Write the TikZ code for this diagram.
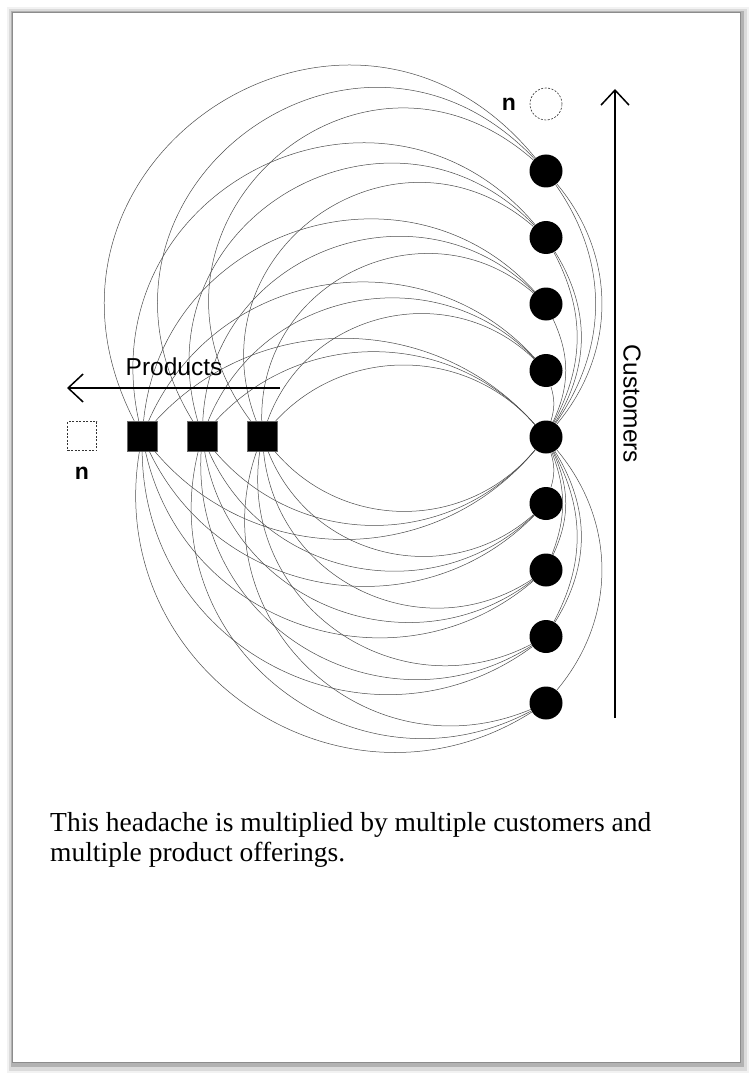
\documentclass[tikz,border=0pt]{standalone}
\usepackage{fontspec}
\setmainfont{Liberation Serif}
\setsansfont{Liberation Sans}
\usetikzlibrary{arrows.meta}
\begin{document}
\begin{tikzpicture}
[x=1pt, y=1pt, node distance=60pt, font=\sffamily\fontsize{24.5}{28}\selectfont]
\tikzstyle{prod}=[rectangle, fill=black, draw=black!60, inner sep=0pt, minimum size=30pt]
\tikzstyle{cust}=[circle, fill=black, inner sep=0pt, minimum size=33pt]
\tikzstyle{ghost}=[draw=black!80, dash pattern=on 2pt off 1.5pt, fill=white, inner sep=0pt, line width=0.6pt]
\tikzstyle{link}=[draw=black!70, line width=0.5pt]
\tikzstyle{axis}=[line width=1.5pt, -{Straight Barb[length=15pt,width=28pt]}]
\tikzstyle{nlabel}=[font=\sffamily\bfseries\fontsize{23}{25}\selectfont]

\useasboundingbox (0,0) rectangle (750,-1075);
% page and its shadow
\fill[black!5] (7,-7) rectangle (749,-1073);
\fill[black!14] (9,-9) rectangle (747,-1071);
\fill[black!30] (11,-11) rectangle (744,-1067);
\filldraw[fill=white, draw=black!45] (12,-12) rectangle (740,-1062);

\node[prod]	(P1)	at (142,-436) {};
\node[prod]	(P2)	[right of=P1] {};
\node[prod]	(P3)	[right of=P2] {};
\node[prod, ghost, minimum size=29pt]	(Pn)	[left of=P1] {};
\node[nlabel]	(nP)	[below of=Pn, node distance=37pt] {n};

\node[cust]	(C5)	at (546,-437) {};
\node[cust]	(C4)	[above of=C5, node distance=66.5pt] {};
\node[cust]	(C3)	[above of=C4, node distance=66.5pt] {};
\node[cust]	(C2)	[above of=C3, node distance=66.5pt] {};
\node[cust]	(C1)	[above of=C2, node distance=66.5pt] {};
\node[cust]	(C6)	[below of=C5, node distance=66.5pt] {};
\node[cust]	(C7)	[below of=C6, node distance=66.5pt] {};
\node[cust]	(C8)	[below of=C7, node distance=66.5pt] {};
\node[cust]	(C9)	[below of=C8, node distance=66.5pt] {};
\node[cust, ghost, minimum size=32pt]	(Cn)	[above of=C1, node distance=67pt] {};
\node[nlabel]	(nC)	[left of=Cn, node distance=37pt] {n};

% every product to every customer
\foreach \p in {1,2,3}{
  \foreach \c/\b/\l in {1/84/1.57, 2/76/1.38, 3/66/1.2, 4/57/1.1, 5/48/1.02}
    \draw[link] (P\p) to[bend left=\b, looseness=\l] (C\c);
  \foreach \c/\b/\l in {5/50/1.04, 6/55/1.08, 7/59/1.12, 8/63/1.17, 9/66/1.21}
    \draw[link] (P\p) to[bend right=\b, looseness=\l] (C\c);
}
\foreach \c/\b in {1/40,2/32,3/25,4/17} \draw[link] (C5) to[bend right=\b] (C\c);
\foreach \c/\b in {9/40,8/32,7/25,6/17} \draw[link] (C5) to[bend left=\b] (C\c);
\draw[link] (C5) to[bend right=35] (C1);
\draw[link] (C5) to[bend right=28] (C2);
\draw[link] (C5) to[bend left=28] (C8);
\draw[link] (C5) to[bend left=21] (C7);

\coordinate (cbot) at (615,-718);
\coordinate (ctop) at (615,-89);
\draw[axis] (cbot) -- (ctop);
\node[rotate=-90]	(custs)	at (632,-404) {Customers};

\coordinate (pright) at (280,-388);
\coordinate (pleft) at (67,-388);
\draw[axis] (pright) -- (pleft);
\node[anchor=base]	(prods)	at (174,-375) {Products};

\node[anchor=base west, inner sep=0pt, font=\rmfamily\fontsize{27.5}{30}\selectfont]	(cap1)	at (50,-831) {This headache is multiplied by multiple customers and};
\node[anchor=base west, inner sep=0pt, font=\rmfamily\fontsize{27.5}{30}\selectfont]	(cap2)	at (50,-861) {multiple product offerings.};
\end{tikzpicture}
\end{document}
